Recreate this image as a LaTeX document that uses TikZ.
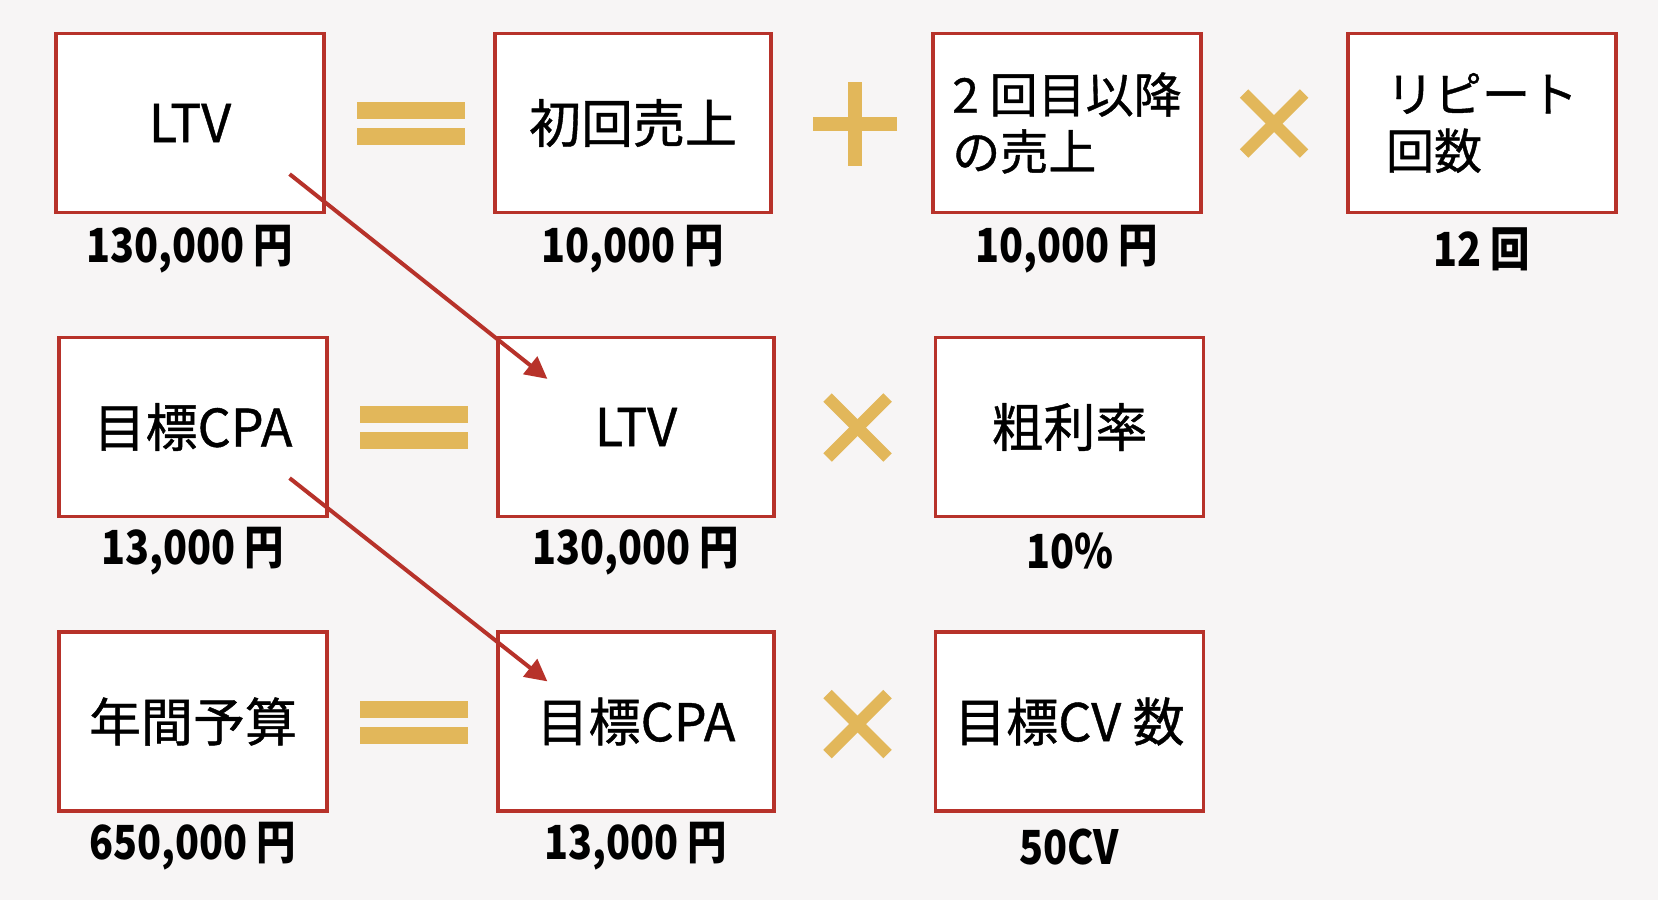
\documentclass[tikz,border=0pt]{standalone}
\usepackage{fontspec}
\setmainfont{Noto Sans CJK JP}
\newfontfamily\boxfont{Noto Sans CJK JP}[UprightFeatures={FakeBold=0.8}]
\newfontfamily\valfont{Noto Sans CJK JP}[FakeStretch=0.84]
\usetikzlibrary{calc,arrows.meta}
\definecolor{bgc}{RGB}{247,245,245}
\definecolor{boxred}{RGB}{183,50,42}
\definecolor{gold}{RGB}{226,183,90}
\tikzset{
  box/.style={draw=boxred, line width=3.2pt, fill=white, inner sep=0pt,
    minimum height=179pt, font=\boxfont\fontsize{52}{58}\selectfont},
  boxn/.style={box, minimum width=268pt},
  boxw/.style={box, minimum width=276pt},
  twoline/.style={align=left, font=\boxfont\fontsize{48}{57}\selectfont},
  val/.style={inner sep=0pt, font=\valfont\bfseries\fontsize{47}{50}\selectfont},
  redarrow/.style={draw=boxred, line width=4pt, -{Triangle[length=22pt,width=22pt]}},
  opbar/.style={fill=gold, draw=none},
  opx/.style={draw=gold, line width=12pt, line cap=butt}
}
\newcommand{\eqsign}[1]{%
  \fill[opbar] ($#1+(-54,-21.5)$) rectangle ($#1+(54,-4.5)$);
  \fill[opbar] ($#1+(-54,4.5)$) rectangle ($#1+(54,21.5)$);}
\newcommand{\timessign}[1]{%
  \draw[opx] ($#1+(-30,-30)$) -- ($#1+(30,30)$);
  \draw[opx] ($#1+(-30,30)$) -- ($#1+(30,-30)$);}
\begin{document}
\begin{tikzpicture}[x=1pt,y=-1pt]
\fill[bgc] (0,0) rectangle (1658,900);
\useasboundingbox (0,0) rectangle (1658,900);

% row 1
\node[boxn] (ltvA) at (190,123) {LTV};
\node[boxw] (first) at (633,123) {初回売上};
\node[boxn,twoline] (second) at (1067,123) {2 回目以降\\の売上};
\node[boxn,twoline] (repeat) at (1482,123) {リピート\\回数};
\node[val] (ltvAv) at ($(ltvA.south)+(0,35)$) {130,000 円};
\node[val] (firstv) at ($(first.south)+(0,35)$) {10,000 円};
\node[val] (secondv) at ($(second.south)+(0,35)$) {10,000 円};
\node[val] (repeatv) at ($(repeat.south)+(0,35)$) {12 回};

% row 2
\node[boxn] (cpaA) at (193,427) {目標CPA};
\node[boxw] (ltvB) at (636,427) {LTV};
\node[boxn] (margin) at (1069.5,427) {粗利率};
\node[val] (cpaAv) at ($(cpaA.south)+(0,33)$) {13,000 円};
\node[val] (ltvBv) at ($(ltvB.south)+(0,33)$) {130,000 円};
\node[val] (marginv) at ($(margin.south)+(0,33)$) {10\%};

% row 3
\node[boxn] (budget) at (193,721.5) {年間予算};
\node[boxw] (cpaB) at (636,721.5) {目標CPA};
\node[boxn] (cv) at (1069.5,721.5) {目標CV 数};
\node[val] (budgetv) at ($(budget.south)+(0,34)$) {650,000 円};
\node[val] (cpaBv) at ($(cpaB.south)+(0,34)$) {13,000 円};
\node[val] (cvv) at ($(cv.south)+(0,34)$) {50CV};

% operators
\eqsign{(411,123.5)}
\eqsign{(414,427)}
\eqsign{(414,722)}
\fill[opbar] (813,117) rectangle (897,131);
\fill[opbar] (848,82) rectangle (862,166);
\timessign{(1274,123.5)}
\timessign{(857.5,427.5)}
\timessign{(857.5,724)}

% arrows
\coordinate (a1s) at ($(ltvA.south east)+(-36,-40)$);
\coordinate (a1e) at ($(ltvB.north west)+(51,43)$);
\coordinate (a2s) at ($(cpaA.south east)+(-39,-40)$);
\coordinate (a2e) at ($(cpaB.north west)+(51,51)$);
\draw[redarrow] (a1s) -- (a1e);
\draw[redarrow] (a2s) -- (a2e);
\end{tikzpicture}
\end{document}
